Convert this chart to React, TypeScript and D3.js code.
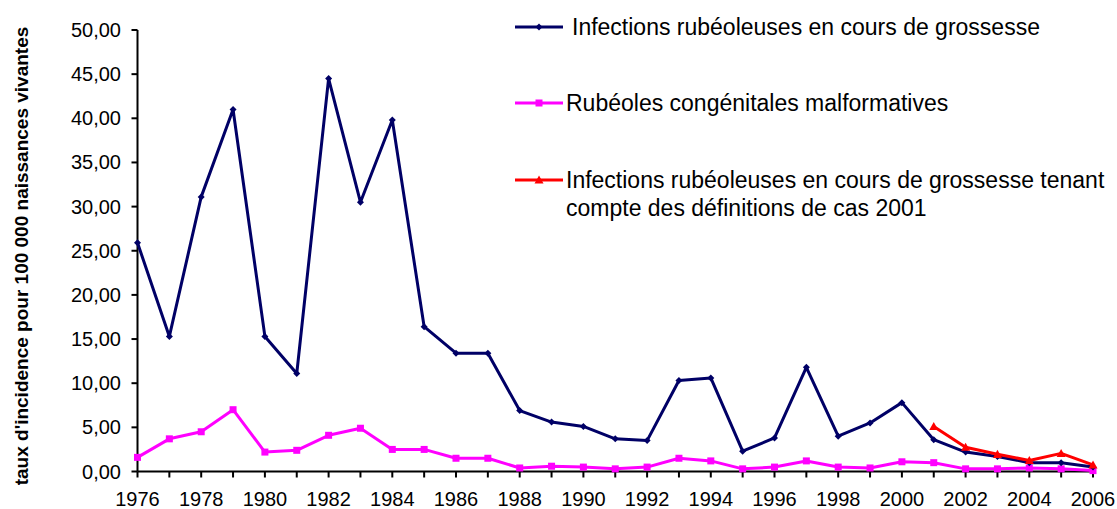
import React from "react";
import * as d3 from "d3";

const years: number[] = d3.range(1976, 2007);
const infections: number[] = [
  25.9, 15.3, 31.1, 41.0, 15.3, 11.1, 44.5, 30.5, 39.8, 16.4,
  13.4, 13.4, 6.9, 5.6, 5.1, 3.7, 3.5, 10.3, 10.6, 2.3,
  3.8, 11.8, 4.0, 5.5, 7.8, 3.6, 2.2, 1.7, 1.0, 1.0, 0.5,
];
const congenital: number[] = [
  1.6, 3.7, 4.5, 7.0, 2.2, 2.4, 4.1, 4.9, 2.5, 2.5,
  1.5, 1.5, 0.4, 0.6, 0.5, 0.3, 0.5, 1.5, 1.2, 0.3,
  0.5, 1.2, 0.5, 0.4, 1.1, 1.0, 0.3, 0.3, 0.4, 0.3, 0.1,
];
const redYears: number[] = [2001, 2002, 2003, 2004, 2005, 2006];
const infections2001: number[] = [5.1, 2.75, 1.95, 1.25, 2.05, 0.75];
const yTicks: number[] = [0, 5, 10, 15, 20, 25, 30, 35, 40, 45, 50];
const xLabelYears: number[] = d3.range(1976, 2007, 2);

const NAVY = "#000066";
const MAGENTA = "#ff00ff";
const RED = "#ff0000";
const FONT = "'Liberation Sans', Arial, sans-serif";

export default function App() {
  const W = 1117;
  const H = 509;
  const x = d3.scaleLinear().domain([1976, 2006]).range([137.5, 1093]);
  const y = d3.scaleLinear().domain([0, 50]).range([471.5, 30]);
  const line = d3
    .line<[number, number]>()
    .x((d) => x(d[0]))
    .y((d) => y(d[1]));

  const navyPts: [number, number][] = years.map((yr, i) => [yr, infections[i]]);
  const magPts: [number, number][] = years.map((yr, i) => [yr, congenital[i]]);
  const redPts: [number, number][] = redYears.map((yr, i) => [yr, infections2001[i]]);

  const diamond = (cx: number, cy: number, s: number) =>
    `M${cx},${cy - s}L${cx + s},${cy}L${cx},${cy + s}L${cx - s},${cy}Z`;
  const tri = (cx: number, cy: number, s: number) =>
    `M${cx},${cy - s}L${cx + s},${cy + s * 0.8}L${cx - s},${cy + s * 0.8}Z`;

  const legend = [
    { color: NAVY, y: 27, marker: "diamond", lines: ["Infections rubéoleuses en cours de grossesse"], tx: 572 },
    { color: MAGENTA, y: 103, marker: "square", lines: ["Rubéoles congénitales malformatives"], tx: 566 },
    {
      color: RED,
      y: 180,
      marker: "tri",
      lines: ["Infections rubéoleuses en cours de grossesse tenant", "compte des définitions de cas 2001"],
      tx: 566,
    },
  ];

  return (
    <svg
      width={W}
      height={H}
      style={{ position: "absolute", left: 0, top: 0, background: "#fff" }}
      fontFamily={FONT}
    >
      <rect width={W} height={H} fill="#fff" />
      {/* Y axis title */}
      <text
        transform={`translate(28,${256}) rotate(-90)`}
        textAnchor="middle"
        fontWeight="bold"
        fontSize={19}
        fill="#000"
      >
        taux d'incidence pour 100 000 naissances vivantes
      </text>

      {/* Y axis */}
      <line x1={x(1976)} x2={x(1976)} y1={y(50)} y2={y(0)} stroke="#000" strokeWidth={2} />
      {yTicks.map((t) => (
        <g key={t}>
          <line x1={x(1976) - 6} x2={x(1976)} y1={y(t)} y2={y(t)} stroke="#000" strokeWidth={2} />
          <text x={121} y={y(t)} dy="0.35em" textAnchor="end" fontSize={20} fill="#000">
            {d3.format(".2f")(t).replace(".", ",")}
          </text>
        </g>
      ))}

      {/* X axis */}
      <line x1={x(1976)} x2={x(2006)} y1={y(0)} y2={y(0)} stroke="#000" strokeWidth={2} />
      {years.map((yr) => (
        <line key={yr} x1={x(yr)} x2={x(yr)} y1={y(0)} y2={y(0) + 6} stroke="#000" strokeWidth={2} />
      ))}
      {xLabelYears.map((yr) => (
        <text key={yr} x={x(yr)} y={499} dy="0.35em" textAnchor="middle" fontSize={20} fill="#000">
          {yr}
        </text>
      ))}

      {/* Series */}
      <path d={line(magPts) ?? ""} fill="none" stroke={MAGENTA} strokeWidth={3} strokeLinejoin="round" />
      {magPts.map((p, i) => (
        <rect key={i} x={x(p[0]) - 3.5} y={y(p[1]) - 3.5} width={7} height={7} fill={MAGENTA} />
      ))}
      <path d={line(navyPts) ?? ""} fill="none" stroke={NAVY} strokeWidth={3} strokeLinejoin="round" />
      {navyPts.map((p, i) => (
        <path key={i} d={diamond(x(p[0]), y(p[1]), 3.5)} fill={NAVY} />
      ))}
      <path d={line(redPts) ?? ""} fill="none" stroke={RED} strokeWidth={3} strokeLinejoin="round" />
      {redPts.map((p, i) => (
        <path key={i} d={tri(x(p[0]), y(p[1]), 4.5)} fill={RED} />
      ))}

      {/* Legend */}
      {legend.map((l, i) => (
        <g key={i}>
          <line x1={515} x2={563} y1={l.y} y2={l.y} stroke={l.color} strokeWidth={3} />
          {l.marker === "diamond" && <path d={diamond(539, l.y, 3.5)} fill={l.color} />}
          {l.marker === "square" && <rect x={535.5} y={l.y - 3.5} width={7} height={7} fill={l.color} />}
          {l.marker === "tri" && <path d={tri(539, l.y, 4.5)} fill={l.color} />}
          {l.lines.map((s, j) => (
            <text key={j} x={l.tx} y={l.y + j * 28} dy="0.35em" fontSize={23} fill="#000">
              {s}
            </text>
          ))}
        </g>
      ))}
    </svg>
  );
}
